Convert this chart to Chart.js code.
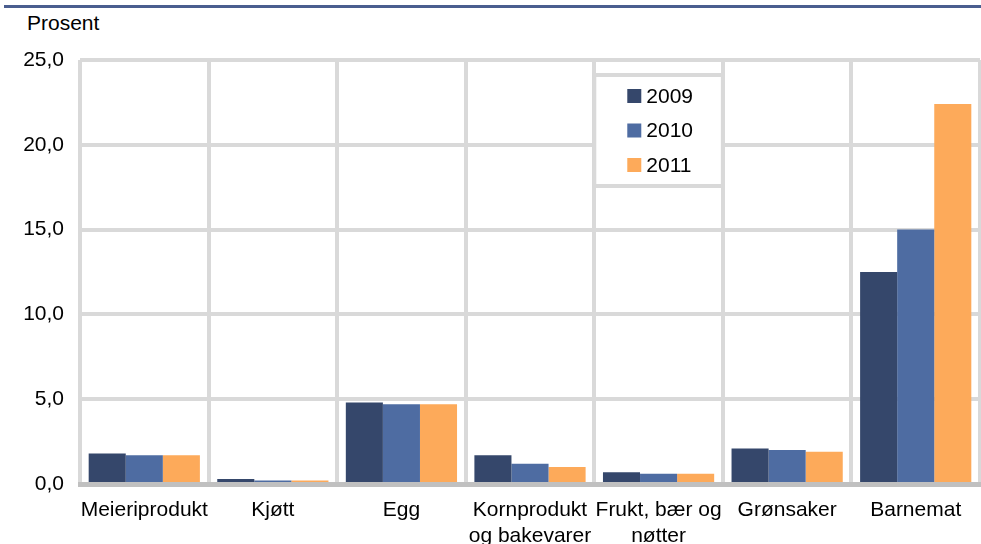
<!DOCTYPE html>
<html>
<head>
<meta charset="utf-8">
<script src="https://cdn.jsdelivr.net/npm/chart.js@4"></script>
<style>
  html, body { margin: 0; padding: 0; background: #fff; overflow: hidden; }
  #wrap { position: relative; width: 981px; height: 544px; }
  #topLine { position: absolute; left: 4px; top: 5px; width: 977px; height: 3px; background: #4a5e8f; }
  #unit { position: absolute; left: 27px; top: 11px; font: 21px "Liberation Sans", Arial, sans-serif; color: #000; }
  canvas { position: absolute; left: 0; top: 0; }
</style>
</head>
<body>
<div id="wrap">
  <div id="topLine"></div>
  <div id="unit">Prosent</div>
  <canvas id="chart" width="981" height="544"></canvas>
</div>
<script>
// Kategorier og verdier (prosent)
var categories = ['Meieriprodukt', 'Kjøtt', 'Egg', ['Kornprodukt', 'og bakevarer'], ['Frukt, bær og', 'nøtter'], 'Grønsaker', 'Barnemat'];
var years = ['2009', '2010', '2011'];
var values2009 = [1.8, 0.3, 4.8, 1.7, 0.7, 2.1, 12.5];
var values2010 = [1.7, 0.2, 4.7, 1.2, 0.6, 2.0, 15.0];
var values2011 = [1.7, 0.2, 4.7, 1.0, 0.6, 1.9, 22.4];
var yTicks = [0, 5, 10, 15, 20, 25];

var colors = ['#35476b', '#4e6ca2', '#fdaa5a'];
var fontFamily = '"Liberation Sans", Arial, sans-serif';

// Legend inne i plotteområdet, i hvit boks
var boxLegend = {
  id: 'boxLegend',
  afterDraw: function(chart) {
    var ctx = chart.ctx;
    var x = chart.scales.x;
    var y = chart.scales.y;
    var catW = (chart.chartArea.right - chart.chartArea.left) / categories.length;
    var left = x.getPixelForValue(4) - catW / 2;
    var top = y.getPixelForValue(25) + 15;
    var w = catW;
    var h = 111;
    ctx.save();
    ctx.fillStyle = '#ffffff';
    ctx.fillRect(left, top, w, h);
    ctx.strokeStyle = '#d9d9d9';
    ctx.lineWidth = 4;
    ctx.strokeRect(left, top, w, h);
    ctx.font = '21px ' + fontFamily;
    ctx.textBaseline = 'middle';
    chart.data.datasets.forEach(function(ds, i) {
      var cy = top + 21 + i * 34.5;
      ctx.fillStyle = ds.backgroundColor;
      ctx.fillRect(left + 33, cy - 7, 14, 14);
      ctx.fillStyle = '#000';
      ctx.fillText(ds.label, left + 52, cy + 1);
    });
    ctx.restore();
  }
};

new Chart(document.getElementById('chart').getContext('2d'), {
  type: 'bar',
  data: {
    labels: categories,
    datasets: [
      { label: years[0], data: values2009, backgroundColor: colors[0] },
      { label: years[1], data: values2010, backgroundColor: colors[1] },
      { label: years[2], data: values2011, backgroundColor: colors[2] }
    ]
  },
  options: {
    responsive: false,
    animation: false,
    layout: { padding: { top: 60, left: 0, right: 1, bottom: 0 } },
    datasets: {
      bar: { categoryPercentage: 0.865, barPercentage: 1.0 }
    },
    plugins: {
      legend: { display: false },
      title: { display: false },
      tooltip: { enabled: false }
    },
    scales: {
      x: {
        grid: { color: '#d9d9d9', lineWidth: 4, drawTicks: false, offset: true },
        border: { color: '#c0c0c0', width: 5 },
        ticks: {
          color: '#000',
          font: { family: fontFamily, size: 21, lineHeight: 1.2 },
          padding: 14,
          maxRotation: 0,
          autoSkip: false
        },
        afterFit: function(scale) { scale.height = 60; }
      },
      y: {
        min: 0,
        max: 25,
        afterBuildTicks: function(scale) {
          scale.ticks = yTicks.map(function(v) { return { value: v }; });
        },
        grid: { color: '#d9d9d9', lineWidth: 4, drawTicks: false },
        border: { display: false },
        ticks: {
          color: '#000',
          font: { family: fontFamily, size: 21 },
          padding: 16,
          callback: function(v) { return v.toFixed(1).replace('.', ','); }
        },
        afterFit: function(scale) { scale.width = 80; }
      }
    }
  },
  plugins: [boxLegend]
});
</script>
</body>
</html>
